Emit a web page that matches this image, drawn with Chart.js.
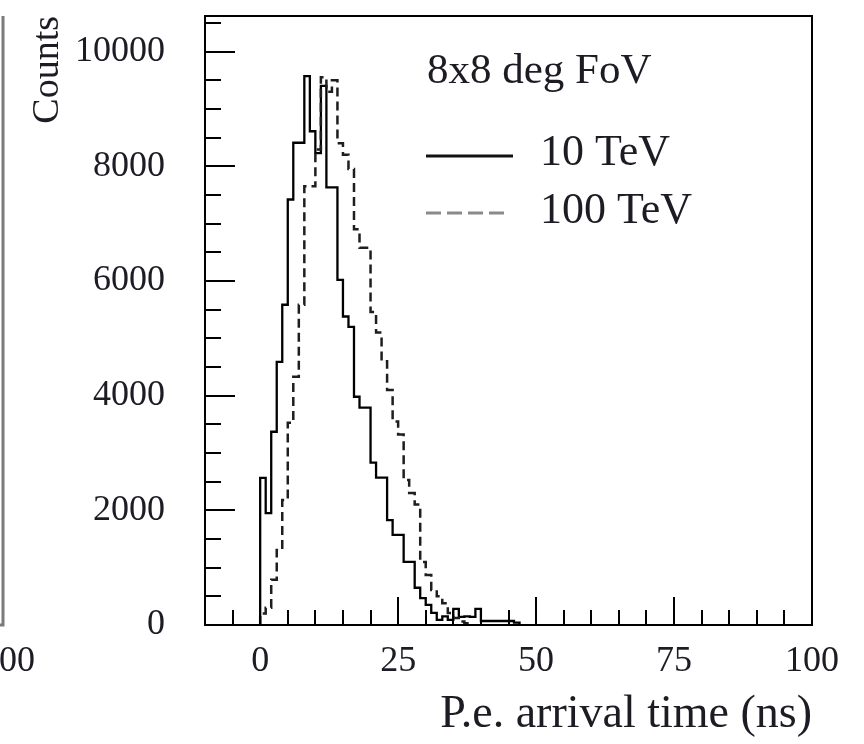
<!DOCTYPE html>
<html><head><meta charset="utf-8">
<script src="https://cdn.jsdelivr.net/npm/chart.js@4/dist/chart.umd.min.js"></script>
<style>html,body{margin:0;padding:0;background:#fff;}#wrap{width:864px;height:744px;}</style>
</head><body><div id="wrap"><canvas id="c" width="864" height="744"></canvas></div>
<script>
// ---- data ----
const binWidthNs = 1; // histogram bins of 1 ns starting at 0 ns
const counts10TeV = [2565, 1950, 3370, 4590, 5585, 7420, 8410, 8410, 9570, 8610,
  8230, 9400, 7630, 7630, 6020, 5380, 5200, 3980, 3790, 3790,
  2830, 2570, 2570, 1830, 1570, 1570, 1100, 1100, 650, 470,
  350, 210, 90, 150, 90, 280, 140, 150, 140, 280,
  70, 70, 70, 70, 70, 70, 40];
const counts100TeV = [200, 300, 790, 1310, 2180, 3525, 4330, 5585, 7650, 7650,
  8290, 9550, 9300, 9500, 8400, 8200, 7950, 6900, 6580, 6580,
  5460, 5100, 4600, 4100, 3550, 3320, 2530, 2300, 2100, 1100,
  870, 610, 500, 380, 210, 120, 60, 30];
const seriesLabels = ['10 TeV', '100 TeV'];
const xTickLabels = [0, 25, 50, 75, 100];
const yTickLabels = [0, 2000, 4000, 6000, 8000, 10000];
const annotationText = '8x8 deg FoV';
const xTitle = 'P.e. arrival time (ns)';
const yTitle = 'Counts';
const neighbourLabel = '00';

const X_MIN = -10, X_MAX = 100, X_MINOR = 5;
const Y_MIN = 0, Y_MAX = 10620, Y_MINOR = 500;

function toSteps(counts) {
  const pts = [{x: 0, y: 0}];
  counts.forEach((c, i) => pts.push({x: i * binWidthNs, y: c}));
  pts.push({x: counts.length * binWidthNs, y: 0});
  return pts;
}
function minorTicks(lo, hi, step) {
  const out = [];
  for (let v = Math.ceil(lo / step) * step; v <= hi; v += step) out.push({value: v});
  return out;
}

const SERIF = '"Liberation Serif", "DejaVu Serif", serif';
const TXT = '#1c1c24';

const decor = {
  id: 'decor',
  afterDatasetsDraw(chart) {
    const {ctx, chartArea: a, scales: {x, y}} = chart;
    ctx.save();
    ctx.strokeStyle = '#000';
    ctx.lineWidth = 2;
    ctx.setLineDash([]);
    // x ticks (inward)
    x.ticks.forEach(t => {
      const v = t.value;
      const px = Math.round(x.getPixelForValue(v));
      if (px <= a.left + 1 || px >= a.right - 1) return;
      const len = xTickLabels.includes(v) ? 28 : 15;
      ctx.beginPath(); ctx.moveTo(px, a.bottom); ctx.lineTo(px, a.bottom - len); ctx.stroke();
    });
    // y ticks (inward)
    y.ticks.forEach(t => {
      const v = t.value;
      const py = Math.round(y.getPixelForValue(v));
      if (py >= a.bottom - 1 || py <= a.top + 1) return;
      const len = yTickLabels.includes(v) ? 30 : 16;
      ctx.beginPath(); ctx.moveTo(a.left, py); ctx.lineTo(a.left + len, py); ctx.stroke();
    });
    // frame
    ctx.strokeRect(a.left, a.top, a.right - a.left, a.bottom - a.top);

    // annotation + legend
    ctx.fillStyle = TXT;
    ctx.textAlign = 'left';
    ctx.textBaseline = 'alphabetic';
    ctx.font = '43px ' + SERIF;
    const lx = a.left + 221;
    ctx.fillText(annotationText, lx + 1, a.top + 67);
    ctx.font = '44px ' + SERIF;
    ctx.fillText(seriesLabels[0], lx + 114, a.top + 149);
    ctx.fillText(seriesLabels[1], lx + 114, a.top + 207);
    ctx.lineWidth = 3;
    ctx.strokeStyle = '#111';
    ctx.beginPath(); ctx.moveTo(lx, a.top + 140); ctx.lineTo(lx + 87, a.top + 140); ctx.stroke();
    ctx.strokeStyle = '#8a8a8a';
    ctx.setLineDash([15, 6]);
    ctx.beginPath(); ctx.moveTo(lx, a.top + 197); ctx.lineTo(lx + 80, a.top + 197); ctx.stroke();
    ctx.setLineDash([]);

    // fragment of the neighbouring panel on the left
    ctx.strokeStyle = '#7a7a7a';
    ctx.lineWidth = 3;
    ctx.beginPath(); ctx.moveTo(3, a.top); ctx.lineTo(3, a.bottom); ctx.lineTo(0, a.bottom); ctx.stroke();
    ctx.fillStyle = TXT;
    ctx.font = '36px ' + SERIF;
    ctx.textAlign = 'left';
    ctx.textBaseline = 'middle';
    ctx.fillText(neighbourLabel, -1, 662);
    ctx.restore();
  }
};

new Chart(document.getElementById('c'), {
  type: 'line',
  data: {
    datasets: [
      {label: seriesLabels[1], data: toSteps(counts100TeV), stepped: true,
       borderColor: '#1e1e1e', borderWidth: 2.5, borderDash: [9, 5], pointRadius: 0, fill: false},
      {label: seriesLabels[0], data: toSteps(counts10TeV), stepped: true,
       borderColor: '#000', borderWidth: 2.3, pointRadius: 0, fill: false}
    ]
  },
  options: {
    responsive: false, animation: false, devicePixelRatio: 1,
    layout: {padding: {left: 0, right: 52, top: 16, bottom: 0}},
    plugins: {legend: {display: false}, tooltip: {enabled: false}},
    scales: {
      x: {
        type: 'linear', min: X_MIN, max: X_MAX,
        grid: {display: false, drawTicks: false}, border: {display: false},
        afterBuildTicks: s => { s.ticks = minorTicks(X_MIN, X_MAX, X_MINOR); },
        ticks: {autoSkip: false, maxRotation: 0, minRotation: 0,
          padding: 15, color: TXT, font: {family: SERIF, size: 36},
          callback: v => xTickLabels.includes(v) ? String(v) : ''},
        title: {display: true, text: xTitle, align: 'end', color: TXT,
          font: {family: SERIF, size: 46}, padding: {top: 0, bottom: 1}},
        afterFit: s => { s.height = 119; s.paddingLeft = 0; s.paddingRight = 0; }
      },
      y: {
        type: 'linear', min: Y_MIN, max: Y_MAX,
        grid: {display: false, drawTicks: false}, border: {display: false},
        afterBuildTicks: s => { s.ticks = minorTicks(Y_MIN, Y_MAX, Y_MINOR); },
        ticks: {autoSkip: false, padding: 40, color: TXT, font: {family: SERIF, size: 36},
          callback: v => yTickLabels.includes(v) ? String(v) : ''},
        title: {display: true, text: yTitle, align: 'end', color: TXT,
          font: {family: SERIF, size: 38}, padding: {top: 25, bottom: 0}},
        afterFit: s => { s.width = 205; s.paddingTop = 0; s.paddingBottom = 0; }
      }
    }
  },
  plugins: [decor]
});
</script>
</body></html>
